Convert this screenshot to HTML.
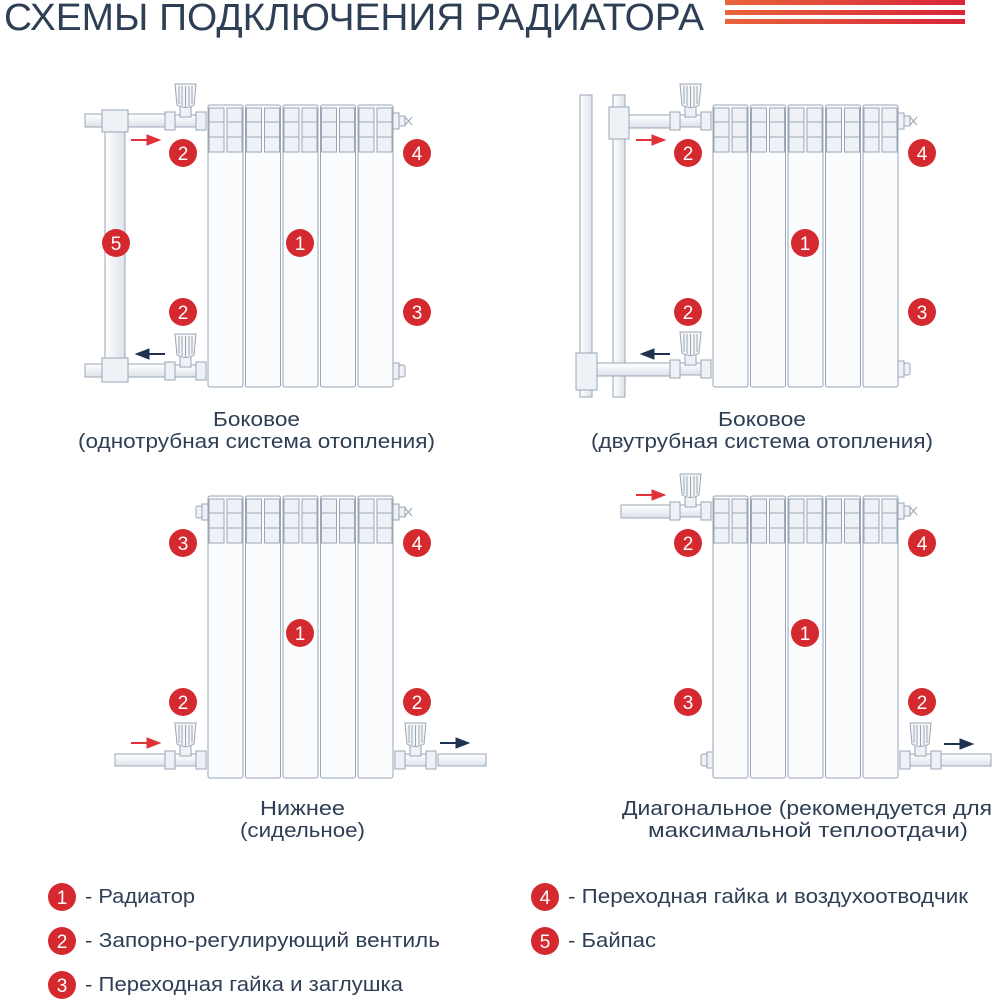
<!DOCTYPE html>
<html><head><meta charset="utf-8"><style>
html,body{margin:0;padding:0;background:#fff;}
svg{display:block;}
text{font-family:"Liberation Sans",sans-serif;}
</style></head><body>
<svg width="1000" height="1000" viewBox="0 0 1000 1000" xmlns="http://www.w3.org/2000/svg">
<defs>
<linearGradient id="pg" x1="0" y1="0" x2="0" y2="1"><stop offset="0" stop-color="#ffffff"/><stop offset="1" stop-color="#dde3ea"/></linearGradient>
<linearGradient id="pgv" x1="0" y1="0" x2="1" y2="0"><stop offset="0" stop-color="#ffffff"/><stop offset="1" stop-color="#dde3ea"/></linearGradient>
<linearGradient id="st" x1="0" y1="0" x2="1" y2="0"><stop offset="0" stop-color="#e8643a"/><stop offset="1" stop-color="#d8243a"/></linearGradient>
<g id="sec" stroke="#9aa5b5" stroke-width="1" fill="#fbfcfd">
<rect x="0" y="0" width="35" height="282" rx="2"/>
<rect x="1" y="3" width="15" height="14" fill="#eef2f6"/><rect x="19" y="3" width="15" height="14" fill="#eef2f6"/>
<rect x="1" y="17" width="15" height="15" fill="#eef2f6"/><rect x="19" y="17" width="15" height="15" fill="#eef2f6"/>
<rect x="1" y="32" width="15" height="15" fill="#eef2f6"/><rect x="19" y="32" width="15" height="15" fill="#eef2f6"/>
</g>
<g id="rad">
<use href="#sec" x="0"/><use href="#sec" x="37.5"/><use href="#sec" x="75"/><use href="#sec" x="112.5"/><use href="#sec" x="150"/>
</g>
<g id="plug" stroke="#9aa5b5" fill="#eef2f6"><rect x="0" y="-8" width="6" height="16"/><rect x="6" y="-6" width="6" height="12" rx="2"/></g>
<g id="vent" stroke="#9aa5b5" fill="#eef2f6"><rect x="0" y="-8" width="6" height="16"/><rect x="6" y="-5" width="6" height="10"/><path d="M12,-4 L19,4 M12,4 L19,-4" fill="none"/></g>
<g id="valve" stroke="#9aa5b5" stroke-width="1">
<rect x="-12" y="-9" width="10" height="18" fill="#eef2f6"/>
<rect x="-33" y="-6" width="21" height="12" fill="url(#pg)"/>
<rect x="-28" y="-22" width="11" height="18" fill="#eef2f6"/>
<path d="M-33,-37 L-12,-37 L-14,-16 Q-22,-11 -31,-16 Z" fill="#f4f6f8"/>
<path d="M-29,-35 V-17 M-26,-35 V-15 M-22.5,-35 V-14 M-19,-35 V-15 M-16,-35 V-17" fill="none"/>
<rect x="-43" y="-9" width="10" height="18" fill="#eef2f6"/>
</g>
<g id="ar"><line x1="0" y1="0" x2="20" y2="0" stroke-width="2"/><path d="M16,-5 L29,0 L16,5 Z"/></g>
<g id="b"><circle r="14" fill="#d42a2f"/></g>
</defs>

<!-- header -->
<text x="4" y="30" font-size="38" fill="#2e3f55" textLength="700" lengthAdjust="spacingAndGlyphs">СХЕМЫ ПОДКЛЮЧЕНИЯ РАДИАТОРА</text>
<rect x="725" y="0" width="240" height="5" fill="url(#st)"/>
<rect x="725" y="10" width="240" height="5" fill="url(#st)"/>
<rect x="725" y="19" width="240" height="5" fill="url(#st)"/>

<!-- TL -->
<g stroke="#9aa5b5" stroke-width="1">
<rect x="105" y="125" width="20" height="240" fill="url(#pgv)"/>
<rect x="85" y="114" width="81" height="13" fill="url(#pg)"/>
<rect x="85" y="364" width="81" height="13" fill="url(#pg)"/>
<rect x="102" y="110" width="26" height="22" fill="#eef2f6"/>
<rect x="102" y="358" width="26" height="24" fill="#eef2f6"/>
</g>
<use href="#valve" x="208" y="121"/><use href="#valve" x="208" y="371"/>
<use href="#rad" x="208" y="105"/>
<use href="#vent" x="393" y="121"/><use href="#plug" x="393" y="371"/>
<use href="#ar" x="131" y="140" fill="#e03238" stroke="#e03238"/>
<use href="#ar" transform="translate(165,354) scale(-1,1)" fill="#1f3350" stroke="#1f3350"/>

<!-- TR -->
<g stroke="#9aa5b5" stroke-width="1">
<rect x="580" y="95" width="12" height="302" fill="url(#pgv)"/>
<rect x="613" y="95" width="12" height="302" fill="url(#pgv)"/>
<rect x="628" y="115" width="43" height="13" fill="url(#pg)"/>
<rect x="597" y="363" width="74" height="13" fill="url(#pg)"/>
<rect x="609" y="107" width="20" height="32" fill="#eef2f6"/>
<rect x="576" y="353" width="21" height="37" fill="#eef2f6"/>
</g>
<use href="#valve" x="713" y="121"/><use href="#valve" x="713" y="369"/>
<use href="#rad" x="713" y="105"/>
<use href="#vent" x="898" y="121"/><use href="#plug" x="898" y="369"/>
<use href="#ar" x="636" y="140" fill="#e03238" stroke="#e03238"/>
<use href="#ar" transform="translate(670,354) scale(-1,1)" fill="#1f3350" stroke="#1f3350"/>

<!-- BL -->
<g stroke="#9aa5b5" stroke-width="1">
<rect x="115" y="754" width="51" height="12" fill="url(#pg)"/>
<rect x="438" y="754" width="48" height="12" fill="url(#pg)"/>
</g>
<use href="#vent" x="393" y="512"/>
<use href="#plug" transform="translate(208,512) scale(-1,1)"/>
<use href="#valve" x="208" y="760"/>
<use href="#valve" transform="translate(393,760) scale(-1,1)"/>
<use href="#rad" x="208" y="496"/>
<use href="#ar" x="131" y="743" fill="#e03238" stroke="#e03238"/>
<use href="#ar" x="440" y="743" fill="#1f3350" stroke="#1f3350"/>

<!-- BR -->
<g stroke="#9aa5b5" stroke-width="1">
<rect x="621" y="505" width="50" height="13" fill="url(#pg)"/>
<rect x="940" y="754" width="51" height="12" fill="url(#pg)"/>
</g>
<use href="#valve" x="713" y="511"/>
<use href="#vent" x="898" y="511"/>
<use href="#plug" transform="translate(713,760) scale(-1,1)"/>
<use href="#valve" transform="translate(898,760) scale(-1,1)"/>
<use href="#rad" x="713" y="496"/>
<use href="#ar" x="636" y="495" fill="#e03238" stroke="#e03238"/>
<use href="#ar" x="944" y="744" fill="#1f3350" stroke="#1f3350"/>

<!-- badges -->
<g font-size="19" fill="#fff" text-anchor="middle">
<g><use href="#b" x="183" y="153"/><text x="183" y="160" fill="#fff">2</text></g>
<g><use href="#b" x="417" y="153"/><text x="417" y="160" fill="#fff">4</text></g>
<g><use href="#b" x="300" y="243"/><text x="300" y="250" fill="#fff">1</text></g>
<g><use href="#b" x="116" y="243"/><text x="116" y="250" fill="#fff">5</text></g>
<g><use href="#b" x="183" y="312"/><text x="183" y="319" fill="#fff">2</text></g>
<g><use href="#b" x="417" y="312"/><text x="417" y="319" fill="#fff">3</text></g>

<g><use href="#b" x="688" y="153"/><text x="688" y="160" fill="#fff">2</text></g>
<g><use href="#b" x="922" y="153"/><text x="922" y="160" fill="#fff">4</text></g>
<g><use href="#b" x="805" y="243"/><text x="805" y="250" fill="#fff">1</text></g>
<g><use href="#b" x="688" y="312"/><text x="688" y="319" fill="#fff">2</text></g>
<g><use href="#b" x="922" y="312"/><text x="922" y="319" fill="#fff">3</text></g>

<g><use href="#b" x="183" y="543"/><text x="183" y="550" fill="#fff">3</text></g>
<g><use href="#b" x="417" y="543"/><text x="417" y="550" fill="#fff">4</text></g>
<g><use href="#b" x="300" y="633"/><text x="300" y="640" fill="#fff">1</text></g>
<g><use href="#b" x="183" y="702"/><text x="183" y="709" fill="#fff">2</text></g>
<g><use href="#b" x="417" y="702"/><text x="417" y="709" fill="#fff">2</text></g>

<g><use href="#b" x="688" y="543"/><text x="688" y="550" fill="#fff">2</text></g>
<g><use href="#b" x="922" y="543"/><text x="922" y="550" fill="#fff">4</text></g>
<g><use href="#b" x="805" y="633"/><text x="805" y="640" fill="#fff">1</text></g>
<g><use href="#b" x="688" y="702"/><text x="688" y="709" fill="#fff">3</text></g>
<g><use href="#b" x="922" y="702"/><text x="922" y="709" fill="#fff">2</text></g>

<g><use href="#b" x="62" y="897"/><text x="62" y="904" fill="#fff">1</text></g>
<g><use href="#b" x="62" y="941"/><text x="62" y="948" fill="#fff">2</text></g>
<g><use href="#b" x="62" y="985"/><text x="62" y="992" fill="#fff">3</text></g>
<g><use href="#b" x="545" y="897"/><text x="545" y="904" fill="#fff">4</text></g>
<g><use href="#b" x="545" y="941"/><text x="545" y="948" fill="#fff">5</text></g>
</g>

<!-- captions -->
<g font-size="20" fill="#2e3f55" lengthAdjust="spacingAndGlyphs">
<text x="213" y="426" textLength="87" lengthAdjust="spacingAndGlyphs">Боковое</text>
<text x="78" y="448" textLength="357" lengthAdjust="spacingAndGlyphs">(однотрубная система отопления)</text>
<text x="718" y="426" textLength="88" lengthAdjust="spacingAndGlyphs">Боковое</text>
<text x="591" y="448" textLength="342" lengthAdjust="spacingAndGlyphs">(двутрубная система отопления)</text>
<text x="260" y="815" textLength="85" lengthAdjust="spacingAndGlyphs">Нижнее</text>
<text x="240" y="837" textLength="125" lengthAdjust="spacingAndGlyphs">(сидельное)</text>
<text x="622" y="815" textLength="370" lengthAdjust="spacingAndGlyphs">Диагональное (рекомендуется для</text>
<text x="648" y="837" textLength="320" lengthAdjust="spacingAndGlyphs">максимальной теплоотдачи)</text>
<text x="85" y="903" textLength="110" lengthAdjust="spacingAndGlyphs">- Радиатор</text>
<text x="85" y="947" textLength="355" lengthAdjust="spacingAndGlyphs">- Запорно-регулирующий вентиль</text>
<text x="85" y="991" textLength="318" lengthAdjust="spacingAndGlyphs">- Переходная гайка и заглушка</text>
<text x="568" y="903" textLength="400" lengthAdjust="spacingAndGlyphs">- Переходная гайка и воздухоотводчик</text>
<text x="568" y="947" textLength="88" lengthAdjust="spacingAndGlyphs">- Байпас</text>
</g>
</svg>
</body></html>
